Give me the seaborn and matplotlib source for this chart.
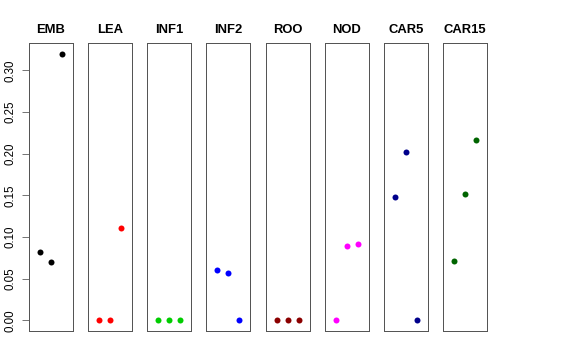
import seaborn as sns
import matplotlib.pyplot as plt
import pandas as pd

# tissues and their three values
tissues = ["EMB", "LEA", "INF1", "INF2", "ROO", "NOD", "CAR5", "CAR15"]
emb = [0.082, 0.070, 0.320]
lea = [0.0, 0.0, 0.111]
inf1 = [0.0, 0.0, 0.0]
inf2 = [0.061, 0.057, 0.0]
roo = [0.0, 0.0, 0.0]
nod = [0.0, 0.089, 0.092]
car5 = [0.148, 0.202, 0.0]
car15 = [0.071, 0.152, 0.216]
values = [emb, lea, inf1, inf2, roo, nod, car5, car15]
colors = ["black", "red", "#00CD00", "blue", "#8B0000", "magenta", "#00008B", "#006400"]
reps = [1, 2, 3]

sns.set_style("white")
plt.rcParams["font.family"] = ["Liberation Sans", "DejaVu Sans"]

fig, axes = plt.subplots(1, 8, figsize=(8, 5), dpi=72, sharey=True)
fig.subplots_adjust(left=29/576, right=487/576, top=1-43/360, bottom=1-331/360, wspace=0.34)

for i, ax in enumerate(axes):
    df = pd.DataFrame({"rep": reps, "value": values[i]})
    sns.scatterplot(x="rep", y="value", data=df, ax=ax, color=colors[i], s=36, linewidth=0, legend=False)
    ax.set_xlim(0, 4)
    ax.set_ylim(-0.0128, 0.3328)
    ax.set_xticks([])
    ax.set_xlabel("")
    ax.set_ylabel("")
    ax.set_title(tissues[i], fontweight="bold", fontsize=13, pad=10, color="black")
    for sp in ax.spines.values():
        sp.set_color("#555555")
        sp.set_linewidth(1)
    if i > 0:
        ax.tick_params(left=False, labelleft=False)

ax0 = axes[0]
ax0.set_yticks([0.0, 0.05, 0.10, 0.15, 0.20, 0.25, 0.30])
ax0.set_yticklabels(["0.00", "0.05", "0.10", "0.15", "0.20", "0.25", "0.30"], rotation=90, va="center")
ax0.tick_params(axis="y", left=True, length=7, width=0.8, color="#555555",
                labelsize=11.5, labelcolor="black", pad=5)

plt.savefig("out.png", dpi=72)
